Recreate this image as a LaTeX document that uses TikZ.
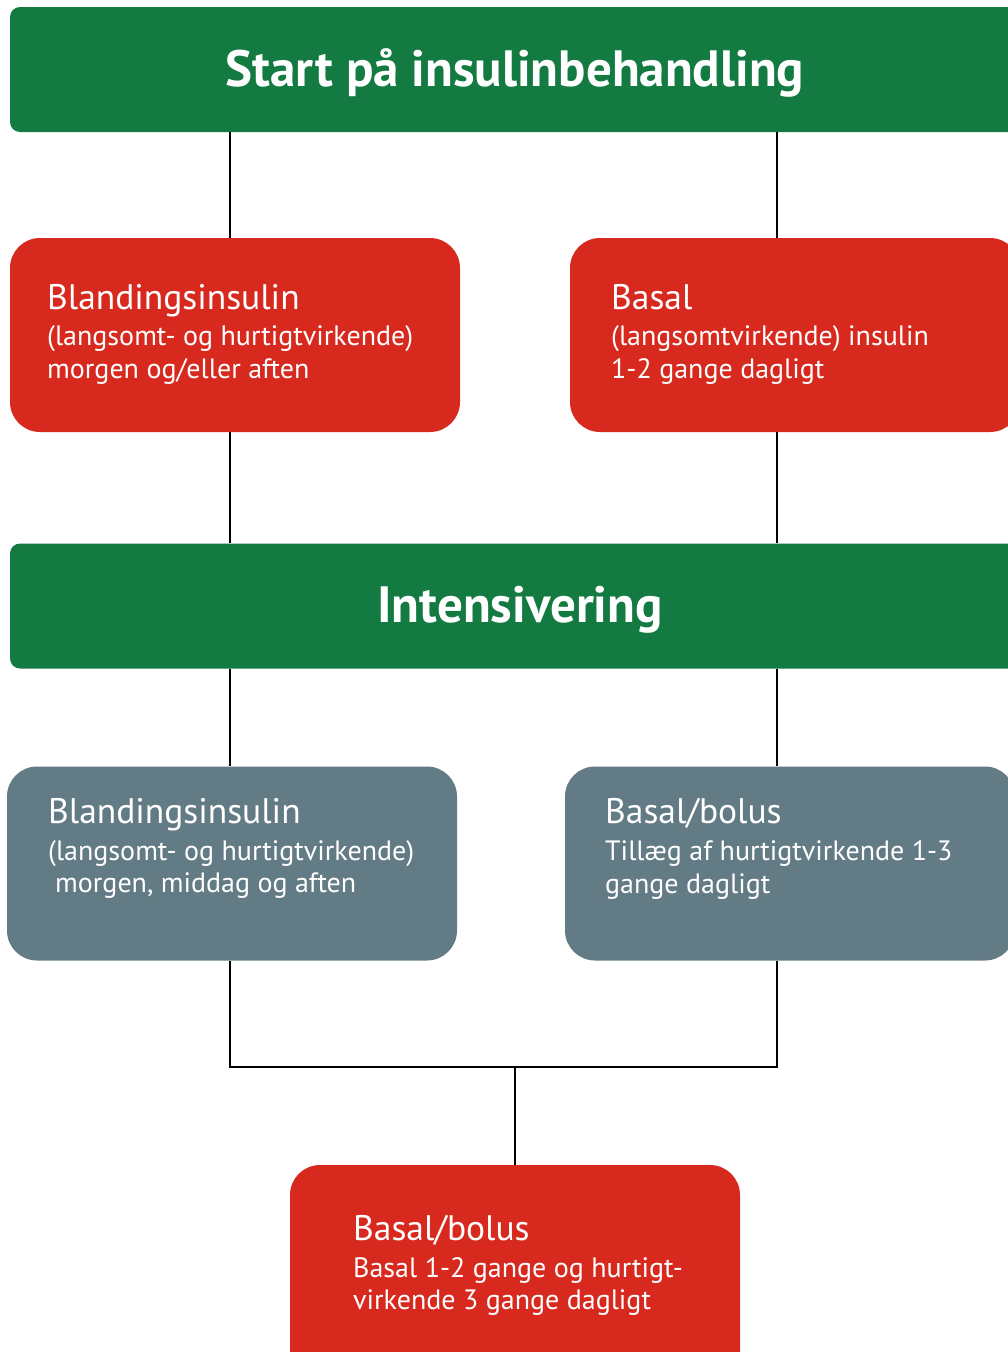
\documentclass[tikz,border=0pt]{standalone}
\usepackage{fontspec}
\setmainfont{PT Sans}
\definecolor{hgreen}{HTML}{137A41}
\definecolor{hred}{HTML}{D8291F}
\definecolor{hgray}{HTML}{637B84}
\begin{document}
\begin{tikzpicture}[x=1pt,y=-1pt,
  box/.style={rectangle,rounded corners=30pt,inner sep=0pt,minimum width=450pt,minimum height=194pt},
  redbox/.style={box,fill=hred},
  graybox/.style={box,fill=hgray},
  greenbar/.style={rectangle,rounded corners=10pt,inner sep=0pt,fill=hgreen,minimum width=1020pt,minimum height=125pt},
  bartext/.style={text=white,font=\bfseries\fontsize{51}{56}\selectfont,anchor=base,inner sep=0pt},
  headtext/.style={text=white,font=\fontsize{35.5}{40}\selectfont,anchor=base west,inner sep=0pt},
  bodytext/.style={text=white,font=\fontsize{28}{32}\selectfont,anchor=base west,inner sep=0pt},
  conn/.style={draw=black,line width=1.5pt}]
\useasboundingbox (0,0) rectangle (1007,1352);
% bars
\node[greenbar] (g1) at (520,69.5) {};
\node[bartext] (g1t) at (515,86) {Start på insulinbehandling};
\node[greenbar] (g2) at (520,606) {};
\node[bartext] (g2t) at (520,622) {Intensivering};
% red start boxes
\node[redbox] (r1) at (235,335) {};
\node[redbox] (r2) at (795,335) {};
% gray boxes
\node[graybox] (s1) at (232,863.5) {};
\node[graybox] (s2) at (790,863.5) {};
% bottom
\node[redbox,minimum height=220pt] (b) at (515,1275) {};
% connector points
\coordinate (jl) at (230,1067);
\coordinate (jr) at (777,1067);
\coordinate (jm) at (515,1067);
\draw[conn] (g1.south -| jl) -- (r1.north -| jl);
\draw[conn] (g1.south -| jr) -- (r2.north -| jr);
\draw[conn] (r1.south -| jl) -- (g2.north -| jl);
\draw[conn] (r2.south -| jr) -- (g2.north -| jr);
\draw[conn] (g2.south -| jl) -- (s1.north -| jl);
\draw[conn] (g2.south -| jr) -- (s2.north -| jr);
\draw[conn] (s1.south -| jl) -- (jl) -- (jr) -- (s2.south -| jr);
\draw[conn] (jm) -- (b.north);
% texts
\node[headtext] (r1a) at (47,309) {Blandingsinsulin};
\node[bodytext] (r1b) at (47,345) {(langsomt- og hurtigtvirkende)};
\node[bodytext] (r1c) at (47,378) {morgen og/eller aften};
\node[headtext] (r2a) at (611,309) {Basal};
\node[bodytext] (r2b) at (611,345) {(langsomtvirkende) insulin};
\node[bodytext] (r2c) at (611,378) {1-2 gange dagligt};
\node[headtext] (s1a) at (48,823) {Blandingsinsulin};
\node[bodytext] (s1b) at (48,860) {(langsomt- og hurtigtvirkende)};
\node[bodytext] (s1c) at (55,892) {morgen, middag og aften};
\node[headtext] (s2a) at (605,823) {Basal/bolus};
\node[bodytext] (s2b) at (605,860) {Tillæg af hurtigtvirkende 1-3};
\node[bodytext] (s2c) at (605,893) {gange dagligt};
\node[headtext] (ba) at (353,1240) {Basal/bolus};
\node[bodytext] (bb) at (353,1277) {Basal 1-2 gange og hurtigt-};
\node[bodytext] (bc) at (353,1309) {virkende 3 gange dagligt};
\end{tikzpicture}
\end{document}
